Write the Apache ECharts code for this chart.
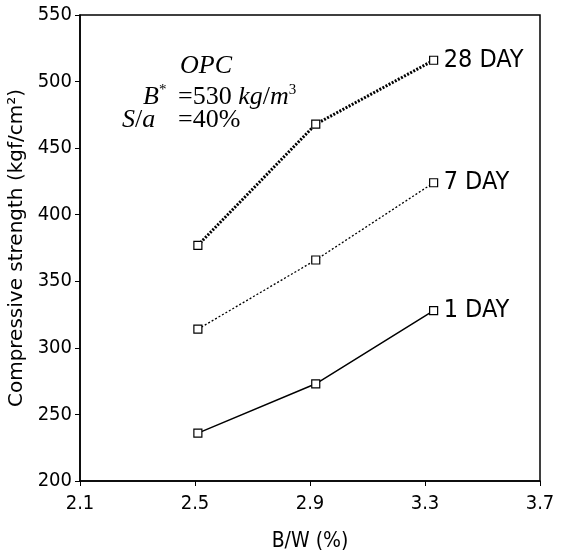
<!DOCTYPE html>
<html>
<head>
<meta charset="utf-8">
<script src="https://cdn.jsdelivr.net/npm/echarts@6/dist/echarts.min.js"></script>
<style>
  html, body { margin: 0; padding: 0; background: #fff; }
  #main { width: 562px; height: 560px; }
</style>
</head>
<body>
<div id="main"></div>
<script>
// 数据
var bw = [2.51, 2.92, 3.33];
var day28 = [377, 468, 516];
var day7 = [314, 366, 424];
var day1 = [236, 273, 328];
var seriesNames = ['28 DAY', '7 DAY', '1 DAY'];

function pairs(xs, ys) {
    var out = [];
    for (var i = 0; i < xs.length; i++) out.push([xs[i], ys[i]]);
    return out;
}

// 窄体字, 接近原图的绘图仪字体
var tickFont = '"Liberation Sans Narrow", "DejaVu Sans Condensed", "Liberation Sans", sans-serif';
var serif = '"Liberation Serif", serif';

function lineSeries(name, ys, lineStyle) {
    return {
        name: name,
        type: 'line',
        data: pairs(bw, ys),
        symbol: 'rect',
        symbolSize: 8,
        itemStyle: { color: '#fff', borderColor: '#000', borderWidth: 1.2 },
        lineStyle: lineStyle,
        endLabel: {
            show: true,
            formatter: name,
            color: '#000',
            fontFamily: tickFont,
            fontSize: 25,
            distance: 10
        },
        z: 3
    };
}

var myChart = echarts.init(document.getElementById('main'));
var option = {
    backgroundColor: '#fff',
    animation: false,
    grid: {
        left: 80, right: 22, top: 15, bottom: 79,
        outerBoundsMode: 'none',
        show: true, borderColor: '#000', borderWidth: 1.5
    },
    xAxis: {
        type: 'value',
        min: 2.1, max: 3.7, interval: 0.4,
        name: 'B/W (%)',
        nameLocation: 'middle',
        nameGap: 50,
        nameTextStyle: { color: '#000', fontFamily: tickFont, fontSize: 21 },
        axisLine: { lineStyle: { color: '#000', width: 1.5 } },
        axisTick: { show: true, inside: false, length: 5, lineStyle: { color: '#000' } },
        axisLabel: {
            color: '#000', fontFamily: tickFont, fontSize: 20, margin: 13,
            formatter: function(v) { return v.toFixed(1); }
        },
        splitLine: { show: false }
    },
    yAxis: {
        type: 'value',
        min: 200, max: 550, interval: 50,
        name: 'Compressive strength (kgf/cm²)',
        nameLocation: 'middle',
        nameGap: 47,
        nameTextStyle: { color: '#000', fontFamily: 'DejaVu Sans, sans-serif', fontSize: 20 },
        axisLine: { lineStyle: { color: '#000', width: 1.5 } },
        axisTick: { show: true, inside: false, length: 5, lineStyle: { color: '#000' } },
        axisLabel: { color: '#000', fontFamily: tickFont, fontSize: 20, margin: 8 },
        splitLine: { show: false }
    },
    graphic: [
        {
            type: 'text', left: 180, top: 53,
            style: { text: 'OPC', fill: '#000', font: 'italic 26px ' + serif }
        },
        // B* =530 kg/m3
        {
            type: 'text', x: 143, y: 97,
            style: {
                text: '{i|B}{s|*}', fill: '#000', align: 'left', verticalAlign: 'middle',
                rich: {
                    i: { font: 'italic 26px ' + serif },
                    s: { font: '15px ' + serif, verticalAlign: 'top', padding: [0, 0, 14, 0] }
                }
            }
        },
        {
            type: 'text', x: 178, y: 97,
            style: {
                text: '{n|=530}{i| kg}{n|/}{i|m}{s|3}', fill: '#000', align: 'left', verticalAlign: 'middle',
                rich: {
                    i: { font: 'italic 26px ' + serif },
                    n: { font: '26px ' + serif },
                    s: { font: '15px ' + serif, verticalAlign: 'top', padding: [0, 0, 14, 0] }
                }
            }
        },
        // S/a =40%
        {
            type: 'text', x: 122, y: 120,
            style: {
                text: '{i|S}{n|/}{i|a}', fill: '#000', align: 'left', verticalAlign: 'middle',
                rich: {
                    i: { font: 'italic 26px ' + serif },
                    n: { font: '26px ' + serif }
                }
            }
        },
        {
            type: 'text', x: 178, y: 120,
            style: {
                text: '=40%', fill: '#000', align: 'left', verticalAlign: 'middle',
                font: '26px ' + serif
            }
        }
    ],
    series: [
        lineSeries(seriesNames[0], day28, { color: '#000', width: 3, type: [2, 1.5] }),
        lineSeries(seriesNames[1], day7, { color: '#000', width: 1.3, type: [2, 2] }),
        lineSeries(seriesNames[2], day1, { color: '#000', width: 1.5, type: 'solid' })
    ]
};
myChart.setOption(option);
</script>
</body>
</html>
